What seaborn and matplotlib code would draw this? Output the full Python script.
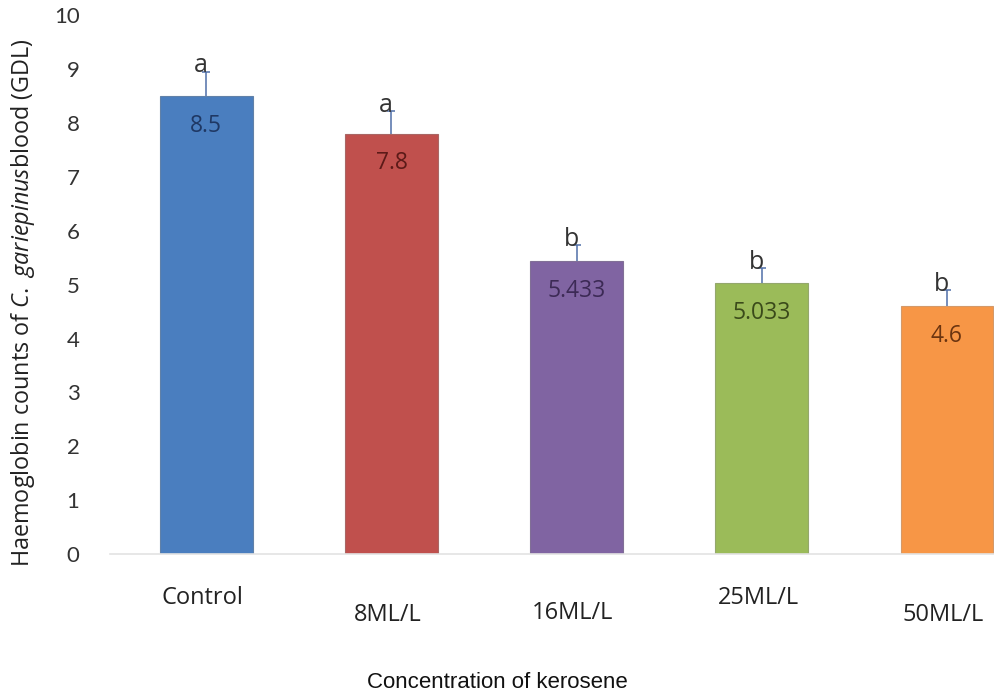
import numpy as np
import pandas as pd
import seaborn as sns
import matplotlib.pyplot as plt
from matplotlib.transforms import blended_transform_factory

# values
groups = ["Control", "8ML/L", "16ML/L", "25ML/L", "50ML/L"]
haemoglobin = [8.5, 7.8, 5.433, 5.033, 4.6]
upper_err = [0.45, 0.42, 0.3, 0.27, 0.3]
value_labels = ["8.5", "7.8", "5.433", "5.033", "4.6"]
letters = ["a", "a", "b", "b", "b"]

bar_colors = ["#4A7EBF", "#C0504D", "#8064A2", "#9BBB59", "#F79646"]
text_colors = ["#1F3864", "#5C1A18", "#3C2A55", "#3A4A1A", "#6B3410"]

df = pd.DataFrame({"group": groups, "hb": haemoglobin})

sns.set_style("white")
plt.rcParams["font.family"] = ["Lato", "DejaVu Sans"]
plt.rcParams["mathtext.fontset"] = "custom"
plt.rcParams["mathtext.it"] = "Open Sans:italic"
plt.rcParams["mathtext.rm"] = "Open Sans"

fig = plt.figure(figsize=(9.95, 6.96), dpi=100)
ax = fig.add_axes([0.1106, 0.204, 0.8894, 0.774])

sns.barplot(data=df, x="group", y="hb", hue="group", palette=bar_colors,
            legend=False, width=0.5, ax=ax, saturation=1)
for p, c in zip(ax.patches, bar_colors):
    p.set_edgecolor(sns.desaturate(c, 0.6))
    p.set_linewidth(0.8)

# upper-only error bars (drop the lower caps)
x = np.arange(len(groups))
eb = ax.errorbar(x, haemoglobin, yerr=[np.zeros(len(x)), upper_err], fmt="none",
                 ecolor="#4F6FA8", elinewidth=1.1, capsize=3, capthick=1.1)
eb[1][0].set_visible(False)

for i in range(len(groups)):
    ax.text(i, haemoglobin[i] - 0.55, value_labels[i], ha="center", va="center",
            fontsize=16.5, color=text_colors[i], family="Open Sans")
    ax.text(i - 0.03, haemoglobin[i] + upper_err[i] - 0.12, letters[i],
            ha="center", va="bottom", fontsize=18, color="#333333",
            family="Open Sans")

ax.set_ylim(0, 10)
ax.set_xlim(-0.52, 4.26)
ax.set_yticks(range(0, 11))
ax.tick_params(axis="y", labelsize=16, length=0, pad=22, labelcolor="#333333")
ax.set_xticks([])
ax.set_xlabel("")
ax.set_ylabel(r"Haemoglobin counts of $\it{C.\ gariepinus}$blood (GDL)",
              fontsize=16.8, color="#222222", family="Open Sans")
ax.yaxis.set_label_coords(-0.082, 0.467)
for s in ["top", "right", "left"]:
    ax.spines[s].set_visible(False)
ax.spines["bottom"].set_color("#E3E3E3")
ax.spines["bottom"].set_linewidth(1.2)

# staggered category labels under the bars
trans = blended_transform_factory(ax.transData, ax.transAxes)
label_y = [-0.082, -0.113, -0.11, -0.082, -0.113]
for i, g in enumerate(groups):
    ax.text(i - 0.02, label_y[i], g, transform=trans, ha="center", va="center",
            fontsize=17, color="#222222", family="Open Sans")

fig.text(0.5, 0.02, "Concentration of kerosene", ha="center", va="center",
         fontsize=16, family="Liberation Sans", color="#111111")

fig.savefig("out.png", dpi=100)
